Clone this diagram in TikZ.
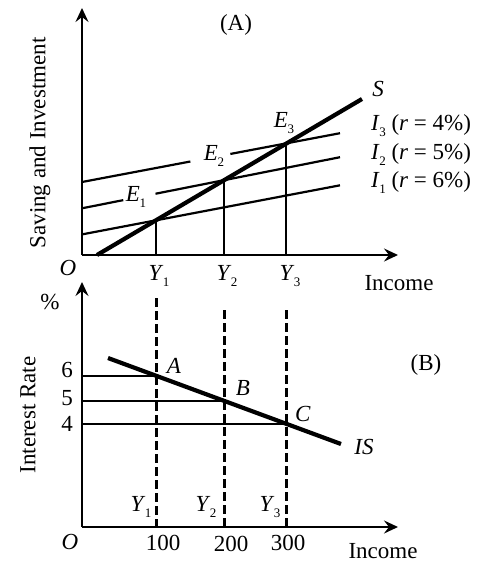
\documentclass[tikz,border=0pt]{standalone}
\usepackage{fontspec}
\setmainfont{Liberation Serif}
\usetikzlibrary{arrows.meta,calc}
\newcommand{\lsub}[2]{\textit{#1}\kern-0.5pt{\fontsize{13}{13}\selectfont\raisebox{-6pt}{#2}}}
\begin{document}
\begin{tikzpicture}[x=1pt,y=-1pt,
  font=\fontsize{23}{25}\selectfont,
  axis/.style={line width=2.2pt,-{Stealth[length=14pt,width=13pt,inset=5pt]}},
  thinline/.style={line width=2.2pt},
  thickline/.style={line width=4.2pt},
  dashline/.style={line width=3pt,dash pattern=on 9pt off 4pt},
  lbl/.style={inner sep=0pt}]
\useasboundingbox (0,0) rectangle (483,562);

% ---------------- Panel A ----------------
\coordinate (OA) at (82,255);
\coordinate (Atop) at (82,8);
\coordinate (Aright) at (398,255);
\draw[axis] (OA) -- (Atop);
\draw[axis] (OA) -- (Aright);

\coordinate (E1) at (156,220.3);
\coordinate (E2) at (224,180.2);
\coordinate (E3) at (286,143.7);
\coordinate (X1) at (156,255);
\coordinate (X2) at (224,255);
\coordinate (X3) at (286,255);

% investment lines
\coordinate (I1s) at (82,234.4);  \coordinate (I1e) at (340,185.3);
\coordinate (I2s) at (82,208.3);  \coordinate (I2e) at (340,157.2);
\coordinate (I3s) at (82,182.0);  \coordinate (I3e) at (340,133.2);
\draw[thinline] (I1s) -- (I1e);
\draw[thinline] (I2s) -- ($(I2s)!0.16!(I2e)$);
\draw[thinline] ($(I2s)!0.285!(I2e)$) -- (I2e);
\draw[thinline] (I3s) -- ($(I3s)!0.42!(I3e)$);
\draw[thinline] ($(I3s)!0.575!(I3e)$) -- (I3e);

% saving line
\coordinate (Ss) at (97,255);
\coordinate (Se) at (362,99);
\draw[thickline] (Ss) -- (Se);

% verticals
\draw[thinline] (E1) -- (X1);
\draw[thinline] (E2) -- (X2);
\draw[thinline] (E3) -- (X3);

% labels A
\node[lbl] (titA) at (236,25) {(A)};
\node[lbl] (labS) at (378,89) {\textit{S}};
\node[lbl,anchor=west] (labI3) at (371,126) {\lsub{I}{3} (\textit{r} = 4\%)};
\node[lbl,anchor=west] (labI2) at (371,155) {\lsub{I}{2} (\textit{r} = 5\%)};
\node[lbl,anchor=west] (labI1) at (371,183) {\lsub{I}{1} (\textit{r} = 6\%)};
\node[lbl] (labE1) at (136,197) {\lsub{E}{1}};
\node[lbl] (labE2) at (214,156) {\lsub{E}{2}};
\node[lbl] (labE3) at (284,123) {\lsub{E}{3}};
\node[lbl] (labOA) at (68,268) {\textit{O}};
\node[lbl] (labY1) at (159,276) {\lsub{Y}{1}};
\node[lbl] (labY2) at (227,276) {\lsub{Y}{2}};
\node[lbl] (labY3) at (290,276) {\lsub{Y}{3}};
\node[lbl] (incA) at (399,283) {Income};
\node[lbl,rotate=90] (savA) at (40,143) {Saving and Investment};

% ---------------- Panel B ----------------
\coordinate (OB) at (82,527);
\coordinate (Btop) at (82,282);
\coordinate (Bright) at (398,527);
\draw[axis] (OB) -- (Btop);
\draw[axis] (OB) -- (Bright);

\coordinate (ISs) at (108,358);
\coordinate (ISe) at (341,444);
\coordinate (A) at (156,375.7);
\coordinate (B) at (224,400.8);
\coordinate (C) at (286,423.7);
\coordinate (HA) at (82,375.7);
\coordinate (HB) at (82,400.8);
\coordinate (HC) at (82,423.7);
\draw[thinline] (HA) -- (A);
\draw[thinline] (HB) -- (B);
\draw[thinline] (HC) -- (C);

\coordinate (D1t) at (156,298);  \coordinate (D1b) at (156,527);
\coordinate (D2t) at (224,310);  \coordinate (D2b) at (224,527);
\coordinate (D3t) at (286,310);  \coordinate (D3b) at (286,527);
\draw[dashline] (D1t) -- (D1b);
\draw[dashline] (D2t) -- (D2b);
\draw[dashline] (D3t) -- (D3b);

\draw[thickline] (ISs) -- (ISe);

% labels B
\node[lbl] (pct) at (50,302) {\%};
\node[lbl] (six) at (67,370) {6};
\node[lbl] (five) at (67,398) {5};
\node[lbl] (four) at (67,424) {4};
\node[lbl] (labA) at (174,366) {\textit{A}};
\node[lbl] (labB) at (243,388) {\textit{B}};
\node[lbl] (labC) at (303,414) {\textit{C}};
\node[lbl] (labIS) at (364,447) {\textit{IS}};
\node[lbl] (titB) at (426,365) {(B)};
\node[lbl] (bY1) at (141,507) {\lsub{Y}{1}};
\node[lbl] (bY2) at (206,507) {\lsub{Y}{2}};
\node[lbl] (bY3) at (270,507) {\lsub{Y}{3}};
\node[lbl] (n100) at (163,543) {100};
\node[lbl] (n200) at (231,544) {200};
\node[lbl] (n300) at (288,543) {300};
\node[lbl] (labOB) at (70,542) {\textit{O}};
\node[lbl] (incB) at (383,551) {Income};
\node[lbl,rotate=90] (intB) at (28,415) {Interest Rate};
\end{tikzpicture}
\end{document}
